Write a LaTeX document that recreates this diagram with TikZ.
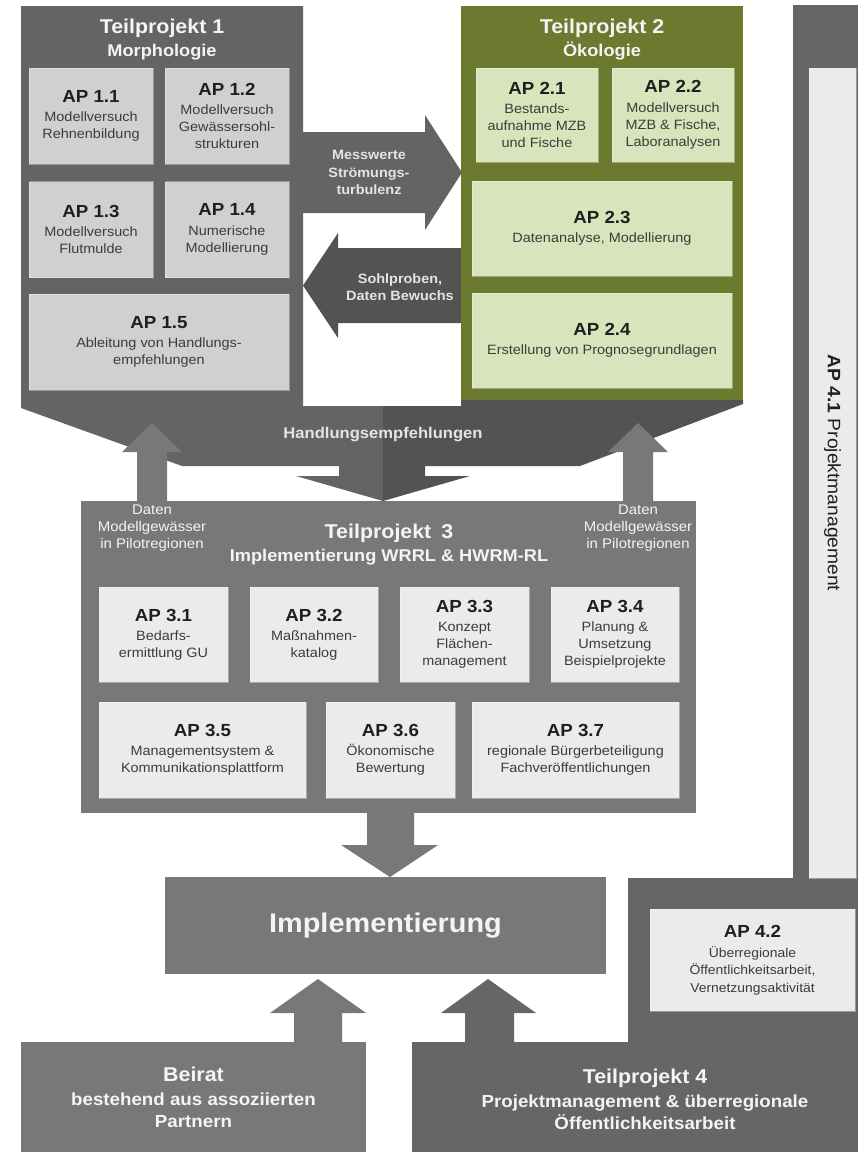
\documentclass[tikz,border=0pt]{standalone}
\usepackage{fontspec}
\setmainfont{Liberation Sans}[FakeStretch=1.07]

\definecolor{tponecol}{HTML}{646464}
\definecolor{darkcol}{HTML}{535353}
\definecolor{lightcol}{HTML}{787878}
\definecolor{tpfourcol}{HTML}{666666}
\definecolor{greencol}{HTML}{6B7A2F}
\definecolor{aponecol}{HTML}{D0D0D0}
\definecolor{aptwocol}{HTML}{D8E4BC}
\definecolor{apthreecol}{HTML}{EBEBEB}
\definecolor{labcol}{HTML}{1F1F1F}
\definecolor{desccol}{HTML}{3C3C3C}
\definecolor{whitetext}{HTML}{F4F4F4}
\definecolor{arrowtext}{HTML}{E4E4E4}

\newcommand\descfont{\fontsize{13.5}{17}\selectfont}
\newcommand\aplab[1]{{\color{labcol}\bfseries\fontsize{17.5}{20}\selectfont #1}}
\newcommand\titlefont{\bfseries\fontsize{20}{23}\selectfont}
\newcommand\subfont{\bfseries\fontsize{17}{23}\selectfont}

\begin{document}
\begin{tikzpicture}[x=1pt,y=-1pt,
  apbox/.style={rectangle, inner sep=0pt, align=center, font=\descfont,
    text=desccol, draw=white, draw opacity=0.35, line width=0.8pt},
  apone/.style={apbox, fill=aponecol},
  aptwo/.style={apbox, fill=aptwocol},
  apthree/.style={apbox, fill=apthreecol},
  tptitle/.style={align=center, inner sep=0pt, text=whitetext, font=\subfont},
  arrowlabel/.style={align=center, inner sep=0pt, text=arrowtext,
    font=\bfseries\fontsize{13.5}{17.5}\selectfont},
  datenlabel/.style={align=center, inner sep=0pt, text=whitetext,
    font=\fontsize{14}{17}\selectfont},
  bigbox/.style={rectangle, inner sep=0pt, align=center, text=whitetext}
]
\useasboundingbox (0,0) rectangle (858,1152);
\fill[white] (0,0) rectangle (858,1152);

% ---------- Teilprojekt 1 with its half of the funnel ----------
\fill[tponecol] (21,6) -- (303,6) -- (303,406) -- (383,406) -- (383,501)
  -- (296,476) -- (339,476) -- (339,466) -- (182,466) -- (21,408) -- cycle;
% ---------- darker half of the funnel below Teilprojekt 2 ----------
\fill[darkcol] (383,406) -- (461,406) -- (461,400) -- (743,400) -- (743,404)
  -- (580,466) -- (425,466) -- (425,476) -- (470,476) -- (383,501) -- cycle;

% ---------- exchange arrows between TP1 and TP2 ----------
\fill[tponecol] (303,132) -- (425,132) -- (425,115) -- (462,172.5)
  -- (425,230) -- (425,213) -- (303,213) -- cycle;
\fill[darkcol] (461,248) -- (338,248) -- (338,233) -- (303,285.5)
  -- (338,338) -- (338,323) -- (461,323) -- cycle;
\node[arrowlabel] (mess) at (369,172.5) {Messwerte\\Strömungs-\\turbulenz};
\node[arrowlabel] (sohl) at (400,287) {Sohlproben,\\Daten Bewuchs};

% ---------- Teilprojekt 2 ----------
\node[rectangle, inner sep=0pt, fill=greencol, minimum width=282, minimum height=394]
  (tp2) at (602,203) {};

% ---------- Teilprojekt 1 titles and work packages ----------
\node[tptitle] (tp1t) at (162,40) {{\titlefont Teilprojekt 1}\\Morphologie};
\node[apone, minimum width=124, minimum height=96] (ap11) at (91,116)
  {\aplab{AP 1.1}\\[2.5pt]Modellversuch\\Rehnenbildung};
\node[apone, minimum width=124, minimum height=96] (ap12) at (227,116)
  {\aplab{AP 1.2}\\[2.5pt]Modellversuch\\Gewässersohl-\\strukturen};
\node[apone, minimum width=124, minimum height=96] (ap13) at (91,229.5)
  {\aplab{AP 1.3}\\[2.5pt]Modellversuch\\Flutmulde};
\node[apone, minimum width=124, minimum height=96] (ap14) at (227,229.5)
  {\aplab{AP 1.4}\\[2.5pt]Numerische\\Modellierung};
\node[apone, minimum width=260, minimum height=96] (ap15) at (159,342)
  {\aplab{AP 1.5}\\[2.5pt]Ableitung von Handlungs-\\empfehlungen};

% ---------- Teilprojekt 2 titles and work packages ----------
\node[tptitle] (tp2t) at (602,40) {{\titlefont Teilprojekt 2}\\Ökologie};
\node[aptwo, minimum width=122, minimum height=94] (ap21) at (537,115)
  {\aplab{AP 2.1}\\[2.5pt]Bestands-\\aufnahme MZB\\und Fische};
\node[aptwo, minimum width=122, minimum height=94] (ap22) at (673,115)
  {\aplab{AP 2.2}\\[2.5pt]Modellversuch\\MZB \& Fische,\\Laboranalysen};
\node[aptwo, minimum width=260, minimum height=95] (ap23) at (602,228.5)
  {\aplab{AP 2.3}\\[2.5pt]Datenanalyse, Modellierung};
\node[aptwo, minimum width=260, minimum height=95] (ap24) at (602,340.5)
  {\aplab{AP 2.4}\\[2.5pt]Erstellung von Prognosegrundlagen};

\node[arrowlabel, font=\bfseries\fontsize{15.5}{18}\selectfont] (handl) at (383,435)
  {Handlungsempfehlungen};

% ---------- Teilprojekt 3 ----------
\node[bigbox, fill=lightcol, minimum width=615, minimum height=312] (tp3) at (388.5,657) {};
% data arrows rising from Teilprojekt 3
\fill[lightcol] (137,501) -- (137,452) -- (122,452) -- (152,423) -- (182,452)
  -- (167,452) -- (167,501) -- cycle;
\fill[lightcol] (623,501) -- (623,452) -- (608,452) -- (638,423) -- (668,452)
  -- (653,452) -- (653,501) -- cycle;
\node[datenlabel] (datl) at (152,528) {Daten\\Modellgewässer\\in Pilotregionen};
\node[datenlabel] (datr) at (638,528) {Daten\\Modellgewässer\\in Pilotregionen};
\node[tptitle] (tp3t) at (389,545)
  {{\titlefont Teilprojekt\enspace 3}\\Implementierung WRRL \& HWRM-RL};

\node[apthree, minimum width=129, minimum height=95] (ap31) at (163.5,634.5)
  {\aplab{AP 3.1}\\[2pt]Bedarfs-\\ermittlung GU};
\node[apthree, minimum width=128, minimum height=95] (ap32) at (314,634.5)
  {\aplab{AP 3.2}\\[2pt]Maßnahmen-\\katalog};
\node[apthree, minimum width=129, minimum height=95] (ap33) at (464.5,634.5)
  {\aplab{AP 3.3}\\[2pt]Konzept\\Flächen-\\management};
\node[apthree, minimum width=128, minimum height=95] (ap34) at (615,634.5)
  {\aplab{AP 3.4}\\[2pt]Planung \&\\Umsetzung\\Beispielprojekte};
\node[apthree, minimum width=207, minimum height=96] (ap35) at (202.5,750)
  {\aplab{AP 3.5}\\[2pt]Managementsystem \&\\Kommunikationsplattform};
\node[apthree, minimum width=129, minimum height=96] (ap36) at (390.5,750)
  {\aplab{AP 3.6}\\[2pt]Ökonomische\\Bewertung};
\node[apthree, minimum width=207, minimum height=96] (ap37) at (575.5,750)
  {\aplab{AP 3.7}\\[2pt]regionale Bürgerbeteiligung\\Fachveröffentlichungen};

% ---------- Implementierung ----------
\fill[lightcol] (367,813) -- (367,845) -- (341,845) -- (390,877) -- (438,845)
  -- (414,845) -- (414,813) -- cycle;
\node[bigbox, fill=lightcol, minimum width=441, minimum height=97,
  font=\bfseries\fontsize{27}{30}\selectfont] (impl) at (385.5,925.5) {Implementierung};

% ---------- Teilprojekt 4 ----------
\fill[tpfourcol] (412,1152) -- (412,1042) -- (628,1042) -- (628,878) -- (793,878)
  -- (793,5) -- (858,5) -- (858,1152) -- cycle;
\node[apthree, rotate=-90, minimum width=810, minimum height=47, text=labcol,
  font=\fontsize{18}{20}\selectfont] (ap41) at (832.5,473)
  {\textbf{AP 4.1} Projektmanagement};
\node[apthree, minimum width=205, minimum height=102, font=\fontsize{13}{17.5}\selectfont]
  (ap42) at (752.5,960)
  {\aplab{AP 4.2}\\[2pt]Überregionale\\Öffentlichkeitsarbeit,\\Vernetzungsaktivität};
\node[tptitle, font=\bfseries\fontsize{17.5}{22}\selectfont] (tp4t) at (645,1099)
  {{\bfseries\fontsize{20}{22}\selectfont Teilprojekt 4}\\[2pt]Projektmanagement \& überregionale\\Öffentlichkeitsarbeit};
\fill[tpfourcol] (465,1042) -- (465,1013) -- (441,1013) -- (488,979) -- (536,1013)
  -- (514,1013) -- (514,1042) -- cycle;

% ---------- Beirat ----------
\node[bigbox, fill=lightcol, minimum width=345, minimum height=110,
  font=\bfseries\fontsize{17.5}{22}\selectfont] (beirat) at (193.5,1097)
  {{\fontsize{20}{22}\selectfont Beirat}\\[2pt]bestehend aus assoziierten\\Partnern};
\fill[lightcol] (294,1042) -- (294,1013) -- (270,1013) -- (318,979) -- (366,1013)
  -- (342,1013) -- (342,1042) -- cycle;
\end{tikzpicture}
\end{document}
